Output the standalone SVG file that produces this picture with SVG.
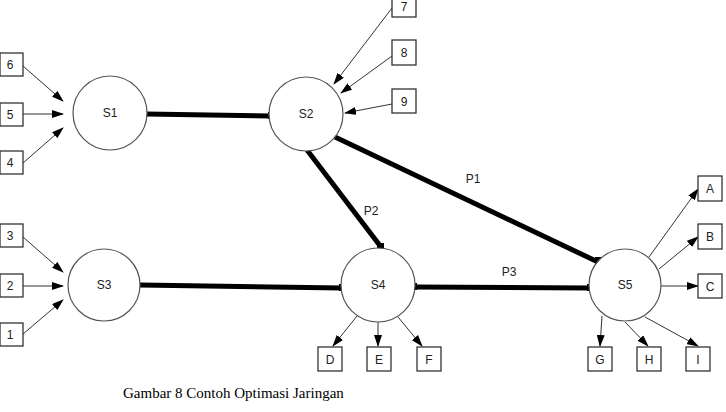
<svg xmlns="http://www.w3.org/2000/svg" width="726" height="412" viewBox="0 0 726 412">
<style>
.node circle{fill:#fff;stroke:#555;stroke-width:1.2}
.box rect{fill:#fff;stroke:#333;stroke-width:1.3}
text{font-family:"Liberation Sans",Arial,sans-serif;font-size:12px;fill:#222;text-anchor:middle}
.thick{stroke:#000;stroke-width:5;fill:none}
.thin{stroke:#333;stroke-width:1;fill:none;marker-end:url(#ah)}
.cap{fill:#000}
.lbl{font-size:12px}
.caption{font-family:"Liberation Serif","Times New Roman",serif;font-size:15px;fill:#000;text-anchor:start}
</style>
<defs>
<marker id="ah" markerWidth="12" markerHeight="8" refX="11" refY="4" orient="auto" markerUnits="userSpaceOnUse">
<path d="M0,0 L12,4 L0,8 Z" fill="#000"/>
</marker>
</defs>
<rect width="726" height="412" fill="#fff"/>
<g id="connectors">
<line class="thick" x1="146" y1="114" x2="271" y2="116"/>
<line class="thick" x1="140" y1="285" x2="342" y2="288"/>
<line class="thick" x1="414" y1="287" x2="590" y2="288"/>
<line class="thick" x1="335" y1="137" x2="598" y2="262"/>
<line class="thick" x1="307" y1="150" x2="381" y2="247"/>
<rect class="cap" x="268" y="112" width="6" height="7"/>
<rect class="cap" x="339" y="284" width="6" height="7"/>
<rect class="cap" x="411" y="283" width="6" height="7"/>
<rect class="cap" x="587" y="284" width="6" height="7"/>
<rect class="cap" x="595" y="257" width="7" height="7"/>
<rect class="cap" x="377" y="243" width="7" height="7"/>
<line class="thin" x1="23" y1="66" x2="63" y2="101"/>
<line class="thin" x1="23" y1="114" x2="63" y2="114"/>
<line class="thin" x1="23" y1="163" x2="63" y2="128"/>
<line class="thin" x1="23" y1="237" x2="63" y2="272"/>
<line class="thin" x1="23" y1="286" x2="63" y2="286"/>
<line class="thin" x1="23" y1="334" x2="63" y2="300"/>
<line class="thin" x1="392" y1="8" x2="334" y2="84"/>
<line class="thin" x1="392" y1="56" x2="341" y2="93"/>
<line class="thin" x1="392" y1="104" x2="345" y2="113"/>
<line class="thin" x1="357" y1="316" x2="333" y2="346"/>
<line class="thin" x1="378" y1="322" x2="378" y2="346"/>
<line class="thin" x1="398" y1="317" x2="422" y2="346"/>
<line class="thin" x1="602" y1="316" x2="600" y2="346"/>
<line class="thin" x1="625" y1="322" x2="648" y2="346"/>
<line class="thin" x1="645" y1="317" x2="698" y2="346"/>
<line class="thin" x1="649" y1="257" x2="698" y2="189"/>
<line class="thin" x1="659" y1="269" x2="698" y2="237"/>
<line class="thin" x1="661" y1="286" x2="698" y2="286"/>
<text class="lbl" x="473" y="183">P1</text>
<text class="lbl" x="371" y="215">P2</text>
<text class="lbl" x="509" y="276">P3</text>
</g>
<g id="S1" class="node"><circle cx="110" cy="113" r="37"/><text x="110" y="117">S1</text></g>
<g id="S2" class="node"><circle cx="306" cy="114" r="37"/><text x="306" y="118">S2</text></g>
<g id="S3" class="node"><circle cx="104" cy="285" r="36"/><text x="104" y="289">S3</text></g>
<g id="S4" class="node"><circle cx="378" cy="285" r="37"/><text x="378" y="289">S4</text></g>
<g id="S5" class="node"><circle cx="625" cy="285" r="36"/><text x="625" y="289">S5</text></g>
<g id="n6" class="box"><rect x="0" y="53" width="23" height="23"/><text x="10" y="69">6</text></g>
<g id="n5" class="box"><rect x="0" y="103" width="23" height="23"/><text x="10" y="119">5</text></g>
<g id="n4" class="box"><rect x="0" y="151" width="23" height="23"/><text x="10" y="167">4</text></g>
<g id="n3" class="box"><rect x="0" y="224" width="23" height="23"/><text x="10" y="240">3</text></g>
<g id="n2" class="box"><rect x="0" y="274" width="23" height="23"/><text x="10" y="290">2</text></g>
<g id="n1" class="box"><rect x="0" y="323" width="23" height="23"/><text x="10" y="339">1</text></g>
<g id="n7" class="box"><rect x="392" y="-8" width="24" height="25"/><text x="404" y="11">7</text></g>
<g id="n8" class="box"><rect x="392" y="40" width="24" height="25"/><text x="404" y="57">8</text></g>
<g id="n9" class="box"><rect x="392" y="89" width="24" height="24"/><text x="404" y="106">9</text></g>
<g id="nD" class="box"><rect x="318" y="347" width="24" height="24"/><text x="330" y="364">D</text></g>
<g id="nE" class="box"><rect x="367" y="347" width="24" height="24"/><text x="379" y="364">E</text></g>
<g id="nF" class="box"><rect x="417" y="347" width="24" height="24"/><text x="429" y="364">F</text></g>
<g id="nG" class="box"><rect x="588" y="347" width="24" height="24"/><text x="600" y="364">G</text></g>
<g id="nH" class="box"><rect x="637" y="347" width="24" height="24"/><text x="649" y="364">H</text></g>
<g id="nI" class="box"><rect x="686" y="347" width="24" height="24"/><text x="698" y="364">I</text></g>
<g id="nA" class="box"><rect x="698" y="176" width="24" height="25"/><text x="710" y="193">A</text></g>
<g id="nB" class="box"><rect x="698" y="224" width="24" height="25"/><text x="710" y="241">B</text></g>
<g id="nC" class="box"><rect x="698" y="274" width="24" height="24"/><text x="710" y="291">C</text></g>
<text class="caption" x="123" y="398">Gambar 8 Contoh Optimasi Jaringan</text>
</svg>
